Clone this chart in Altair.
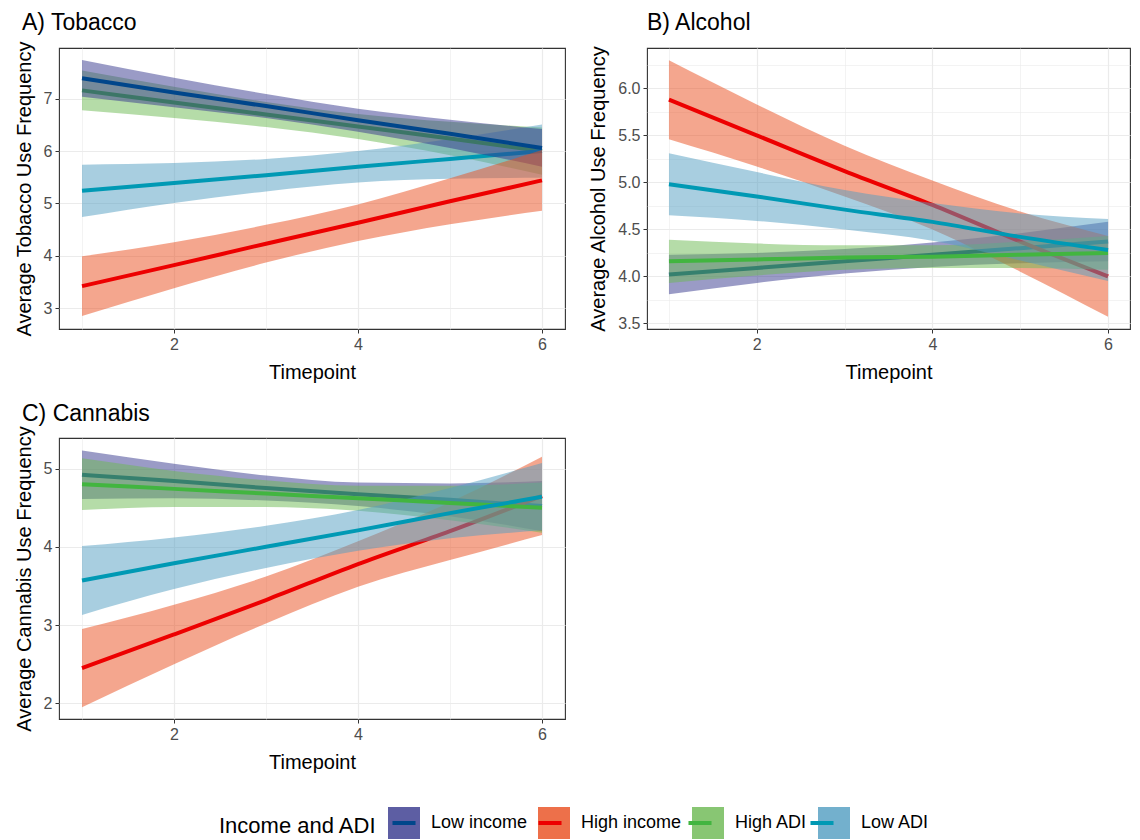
import altair as alt
import pandas as pd

TIMEPOINTS = [1, 2, 3, 4, 5, 6]
LEGEND_ORDER = ["Low income", "High income", "High ADI", "Low ADI"]
INCOME_SET = ["Low income", "High income"]
ADI_SET = ["High ADI", "Low ADI"]
LINE_COLORS = ["#00468B", "#ED0000", "#42B540", "#0099B4"]
FILL_COLORS = ["#35378D", "#E94D1D", "#6BB951", "#519DC1"]

# ---- A) Tobacco ----
TOB_MEAN = {
    "Low income": [7.39, 7.12, 6.86, 6.59, 6.33, 6.06],
    "High income": [3.42, 3.82, 4.23, 4.63, 5.04, 5.44],
    "High ADI": [7.16, 6.93, 6.70, 6.47, 6.24, 6.00],
    "Low ADI": [5.24, 5.39, 5.54, 5.70, 5.85, 6.00],
}
TOB_LO = {
    "Low income": [7.04, 6.84, 6.63, 6.37, 6.06, 5.70],
    "High income": [2.85, 3.38, 3.87, 4.28, 4.60, 4.86],
    "High ADI": [6.78, 6.63, 6.46, 6.23, 5.92, 5.55],
    "Low ADI": [4.74, 5.01, 5.23, 5.40, 5.47, 5.49],
}
TOB_HI = {
    "Low income": [7.74, 7.40, 7.09, 6.81, 6.60, 6.42],
    "High income": [3.99, 4.26, 4.59, 4.98, 5.48, 6.02],
    "High ADI": [7.54, 7.23, 6.94, 6.71, 6.56, 6.45],
    "Low ADI": [5.74, 5.77, 5.85, 6.00, 6.23, 6.51],
}

# ---- B) Alcohol ----
ALC_MEAN = {
    "Low income": [4.02, 4.09, 4.16, 4.23, 4.30, 4.37],
    "High income": [5.88, 5.50, 5.12, 4.76, 4.37, 4.00],
    "High ADI": [4.16, 4.18, 4.20, 4.21, 4.23, 4.25],
    "Low ADI": [4.98, 4.85, 4.71, 4.58, 4.42, 4.28],
}
ALC_LO = {
    "Low income": [3.81, 3.93, 4.03, 4.10, 4.14, 4.16],
    "High income": [5.46, 5.17, 4.85, 4.50, 4.05, 3.57],
    "High ADI": [3.93, 4.01, 4.07, 4.09, 4.09, 4.07],
    "Low ADI": [4.65, 4.59, 4.50, 4.38, 4.17, 3.95],
}
ALC_HI = {
    "Low income": [4.23, 4.25, 4.29, 4.36, 4.46, 4.58],
    "High income": [6.30, 5.83, 5.39, 5.02, 4.69, 4.43],
    "High ADI": [4.39, 4.35, 4.33, 4.33, 4.37, 4.43],
    "Low ADI": [5.31, 5.11, 4.92, 4.78, 4.67, 4.61],
}

# ---- C) Cannabis ----
CAN_MEAN = {
    "Low income": [4.92, 4.84, 4.75, 4.67, 4.60, 4.52],
    "High income": [2.45, 2.88, 3.32, 3.78, 4.20, 4.65],
    "High ADI": [4.80, 4.74, 4.68, 4.62, 4.56, 4.50],
    "Low ADI": [3.57, 3.79, 4.00, 4.21, 4.43, 4.64],
}
CAN_LO = {
    "Low income": [4.61, 4.62, 4.59, 4.52, 4.39, 4.20],
    "High income": [1.95, 2.50, 3.02, 3.49, 3.83, 4.15],
    "High ADI": [4.47, 4.51, 4.51, 4.46, 4.34, 4.18],
    "Low ADI": [3.13, 3.46, 3.73, 3.95, 4.11, 4.21],
}
CAN_HI = {
    "Low income": [5.23, 5.06, 4.91, 4.82, 4.81, 4.84],
    "High income": [2.95, 3.26, 3.62, 4.07, 4.57, 5.15],
    "High ADI": [5.13, 4.97, 4.85, 4.78, 4.78, 4.82],
    "Low ADI": [4.01, 4.12, 4.27, 4.47, 4.75, 5.07],
}

X_TICKS = [1, 2, 3, 4, 5, 6]
TOB_YTICKS = [3, 3.5, 4, 4.5, 5, 5.5, 6, 6.5, 7, 7.5]
ALC_YTICKS = [3.5, 3.75, 4.0, 4.25, 4.5, 4.75, 5.0, 5.25, 5.5, 5.75, 6.0, 6.25]
CAN_YTICKS = [2, 2.5, 3, 3.5, 4, 4.5, 5]

LEGEND_TITLE = "Income and ADI"
FONT = "Liberation Sans"


def build_df(mean, lo, hi):
    rows = []
    for g in LEGEND_ORDER:
        for i, t in enumerate(TIMEPOINTS):
            rows.append({"t": t, "group": g, "group2": g,
                         "mean": mean[g][i], "lo": lo[g][i], "hi": hi[g][i]})
    return pd.DataFrame(rows)


def cond(test, a, b):
    return {"condition": {"test": test, "value": a}, "value": b}


LEG_X, LEG_Y = 160, 757
LEG_COMMON = dict(
    orient="none", legendX=LEG_X, legendY=LEG_Y,
    direction="horizontal", columns=4, titleOrient="left", titleBaseline="middle",
    titleFont=FONT, titleFontSize=22, titleFontWeight="normal", titleColor="black",
    titlePadding=9, labelFont=FONT, labelFontSize=18, labelColor="black",
    labelOffset=9, columnPadding=2, symbolSize=1024, symbolStrokeWidth=4,
)
FILL_LEGEND = alt.Legend(title=LEGEND_TITLE, symbolType="square", symbolOpacity=0.8,
                         symbolStrokeColor="transparent", **LEG_COMMON)
# second legend (line keys) overlaid exactly on the first one; its texts are hidden
STROKE_LEGEND = alt.Legend(title=LEGEND_TITLE, symbolType="M-0.72,0H0.72",
                           symbolOpacity=1, labelOpacity=0, titleOpacity=0,
                           **LEG_COMMON)


def panel(mean, lo, hi, title, ytitle, ydomain, yticks, ymajor, yfmt, width,
          title_dx, title_offset, sets):
    df = build_df(mean, lo, hi)
    base = alt.Chart(df)
    x = alt.X(
        "t:Q",
        scale=alt.Scale(domain=[0.75, 6.25], nice=False, zero=False),
        axis=alt.Axis(
            values=X_TICKS, title="Timepoint",
            labelExpr="datum.value % 2 == 0 ? datum.label : ''",
            tickColor=cond("datum.value % 2 == 0", "#333333", "transparent"),
            gridWidth=cond("datum.value % 2 == 0", 1.2, 0.6),
        ),
    )
    yscale = alt.Scale(domain=ydomain, nice=False, zero=False)
    yaxis = alt.Axis(
        values=yticks, title=ytitle, format=yfmt,
        labelExpr=f"({ymajor}) ? datum.label : ''",
        tickColor=cond(ymajor, "#333333", "transparent"),
        gridWidth=cond(ymajor, 1.2, 0.6),
    )
    fill_scale = alt.Scale(domain=LEGEND_ORDER, range=FILL_COLORS)
    stroke_scale = alt.Scale(range=LINE_COLORS)
    layers = []
    for s in sets:
        for g in s:
            sub = base.transform_filter(alt.datum.group == g)
            layers.append(sub.mark_area(opacity=0.5, interpolate="monotone").encode(
                x=x,
                y=alt.Y("lo:Q", scale=yscale, axis=yaxis),
                y2="hi:Q",
                fill=alt.Fill("group:N", scale=fill_scale, legend=FILL_LEGEND),
            ))
        for g in s:
            sub = base.transform_filter(alt.datum.group == g)
            layers.append(sub.mark_line(strokeWidth=4, interpolate="monotone").encode(
                x=x,
                y=alt.Y("mean:Q", scale=yscale, axis=yaxis),
                stroke=alt.Stroke("group2:N", sort=LEGEND_ORDER, scale=stroke_scale,
                                  legend=STROKE_LEGEND),
            ))
    return alt.layer(*layers).properties(
        width=width, height=281,
        title=alt.TitleParams(title, anchor="start", frame="group",
                              dx=title_dx, offset=title_offset, fontSize=23,
                              font=FONT, fontWeight="normal", color="black"),
    )


A = panel(TOB_MEAN, TOB_LO, TOB_HI, "A) Tobacco", "Average Tobacco Use Frequency",
          [2.6, 7.97], TOB_YTICKS, "datum.value % 1 == 0", "d", 506, -37, 6,
          [ADI_SET, INCOME_SET])
B = panel(ALC_MEAN, ALC_LO, ALC_HI, "B) Alcohol", "Average Alcohol Use Frequency",
          [3.44, 6.43], ALC_YTICKS, "(datum.value * 2) % 1 == 0", ".1f", 483, 0, 10,
          [INCOME_SET, ADI_SET])
C = panel(CAN_MEAN, CAN_LO, CAN_HI, "C) Cannabis", "Average Cannabis Use Frequency",
          [1.8, 5.39], CAN_YTICKS, "datum.value % 1 == 0", "d", 506, -37, 0,
          [INCOME_SET, ADI_SET])

top = alt.hconcat(A, B, spacing=22)
chart = alt.vconcat(top, C, spacing=19).resolve_scale(
    fill="shared", stroke="shared"
).properties(
    padding={"left": 5, "top": 3, "right": 0, "bottom": 0}
).configure(font=FONT).configure_axis(
    labelFont=FONT, labelFontSize=16, labelColor="#4D4D4D",
    titleFont=FONT, titleFontSize=20, titleFontWeight="normal", titleColor="black",
    gridColor="#EBEBEB", tickSize=4, domain=False, labelPadding=3,
).configure_axisY(titlePadding=9).configure_axisX(titlePadding=10).configure_view(
    stroke="#333333", strokeWidth=1.1
)

chart.save("out.html", embed_options={"renderer": "svg", "actions": False})
